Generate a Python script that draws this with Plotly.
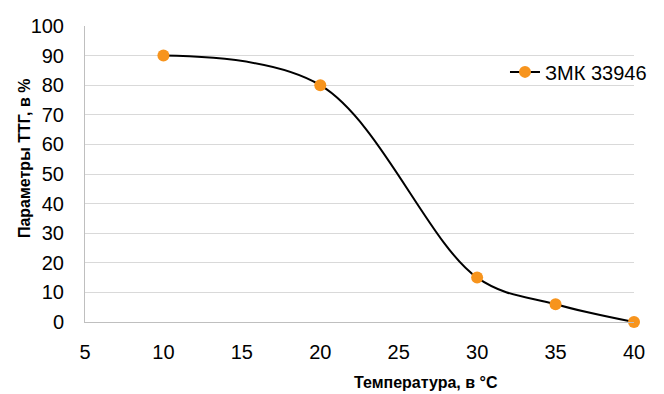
import plotly.graph_objects as go

temps = [10, 20, 30, 35, 40]
values = [90, 80, 15, 6, 0]
series_name = "ЗМК 33946"
x_title = "Температура, в °С"
y_title = "Параметры ТТГ, в %"

FONT = "Liberation Sans, Arial"

fig = go.Figure()
fig.add_trace(go.Scatter(
    x=temps, y=values, name=series_name, mode="lines+markers",
    line=dict(color="black", width=2, shape="spline", smoothing=1.0),
    marker=dict(color="#F7941D", size=12),
    cliponaxis=False,
))
fig.update_layout(
    width=664, height=394,
    margin=dict(l=85, r=12, t=26, b=72),
    paper_bgcolor="white", plot_bgcolor="white",
    font=dict(family=FONT, size=20, color="black"),
    showlegend=True,
    legend=dict(x=0.765, y=0.845, xanchor="left", yanchor="middle",
                bgcolor="rgba(0,0,0,0)", font=dict(size=20), itemwidth=30),
    xaxis=dict(range=[5, 40], tickvals=[5, 10, 15, 20, 25, 30, 35, 40],
               showgrid=False, showline=True, linecolor="#BFBFBF", linewidth=1,
               ticks="", zeroline=False, tickfont=dict(size=20),
               ticklabelstandoff=12, automargin=False),
    yaxis=dict(range=[0, 100], tickvals=list(range(0, 101, 10)),
               showgrid=True, gridcolor="#D9D9D9", gridwidth=1,
               showline=True, linecolor="#BFBFBF", linewidth=1,
               ticks="", zeroline=False, tickfont=dict(size=20),
               ticklabelstandoff=16, automargin=False),
    annotations=[
        dict(text=x_title, xref="paper", yref="paper", x=0.621, y=-0.206,
             xanchor="center", yanchor="middle", showarrow=False,
             font=dict(size=16, family=FONT, weight="bold")),
        dict(text=y_title, xref="paper", yref="paper", x=-0.111, y=0.554,
             xanchor="center", yanchor="middle", showarrow=False, textangle=-90,
             font=dict(size=16, family=FONT, weight="bold")),
    ],
)
fig.write_html("out.html", config={"displayModeBar": False})

with open("out.html", "r", encoding="utf-8") as f:
    html = f.read()
html = html.replace("<head>", "<head><style>html,body{margin:0;padding:0;overflow:hidden;}</style>", 1)
with open("out.html", "w", encoding="utf-8") as f:
    f.write(html)
